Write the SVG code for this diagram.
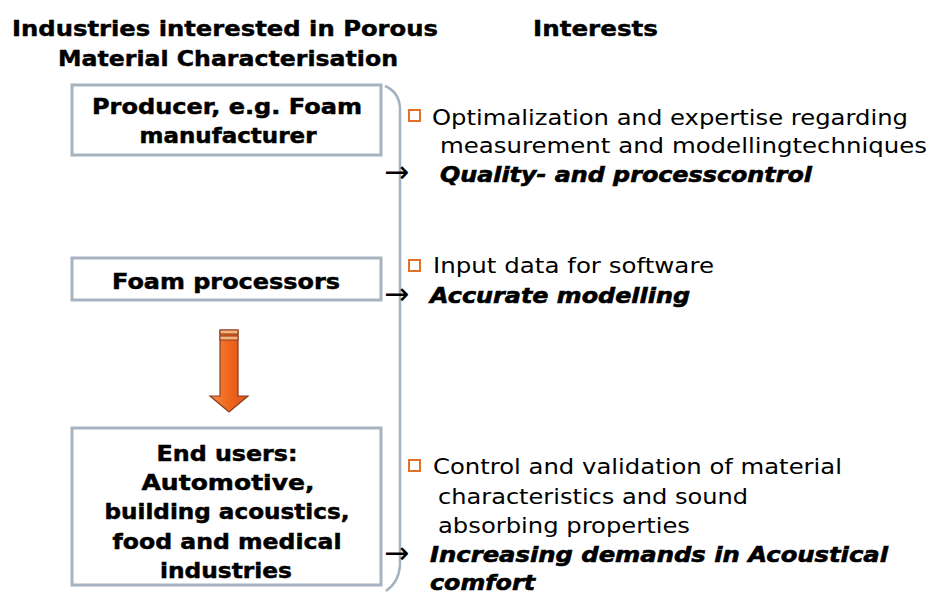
<svg xmlns="http://www.w3.org/2000/svg" width="931" height="594" viewBox="0 0 931 594">
<defs>
<style>
.hdr{font-family:"DejaVu Sans Condensed","DejaVu Sans",sans-serif;font-weight:bold;font-size:22px;fill:#000;stroke:#000;stroke-width:0.4}
.box{fill:#fff;stroke:#a7b3c0;stroke-width:3}
.bt{font-family:"DejaVu Sans",Verdana,sans-serif;font-weight:bold;font-size:22px;fill:#000;stroke:#000;stroke-width:0.5;text-anchor:middle}
.it{font-family:"DejaVu Sans",Verdana,sans-serif;font-size:21px;fill:#000}
.ar{font-family:"DejaVu Sans",sans-serif;font-size:30px;fill:#000}
.em{font-family:"DejaVu Sans",Verdana,sans-serif;font-size:21px;font-weight:bold;font-style:italic;fill:#000;stroke:#000;stroke-width:0.6}
.bul{fill:#fff;stroke:#e0702a;stroke-width:2}
.brk{fill:none;stroke:#a3b2c0;stroke-width:2.5}
</style>
<linearGradient id="ag" x1="0" y1="0" x2="1" y2="0">
<stop offset="0" stop-color="#f58a45"/>
<stop offset="0.5" stop-color="#f0661e"/>
<stop offset="1" stop-color="#d9541a"/>
</linearGradient>
</defs>
<rect width="931" height="594" fill="#fff"/>
<g id="headers">
<text class="hdr" x="12" y="36" textLength="426" lengthAdjust="spacingAndGlyphs">Industries interested in Porous</text>
<text class="hdr" x="58" y="66" textLength="340" lengthAdjust="spacingAndGlyphs">Material Characterisation</text>
<text class="hdr" x="533" y="36" textLength="125" lengthAdjust="spacingAndGlyphs">Interests</text>
</g>
<g id="producer">
<rect class="box" x="72" y="85" width="309" height="70"/>
<text class="bt" x="227" y="114" textLength="270" lengthAdjust="spacingAndGlyphs">Producer, e.g. Foam</text>
<text class="bt" x="228" y="143" textLength="177" lengthAdjust="spacingAndGlyphs">manufacturer</text>
</g>
<g id="processors">
<rect class="box" x="72" y="258" width="309" height="42"/>
<text class="bt" x="226" y="289" textLength="228" lengthAdjust="spacingAndGlyphs">Foam processors</text>
</g>
<g id="endusers">
<rect class="box" x="72" y="428" width="309" height="157"/>
<text class="bt" x="227" y="461" textLength="141" lengthAdjust="spacingAndGlyphs">End users:</text>
<text class="bt" x="228" y="490" textLength="173" lengthAdjust="spacingAndGlyphs">Automotive,</text>
<text class="bt" x="227" y="519" textLength="245" lengthAdjust="spacingAndGlyphs">building acoustics,</text>
<text class="bt" x="227" y="549" textLength="229" lengthAdjust="spacingAndGlyphs">food and medical</text>
<text class="bt" x="226" y="578" textLength="132" lengthAdjust="spacingAndGlyphs">industries</text>
</g>
<g id="connectors">
<path class="brk" d="M385,86 Q399,92 400,108 L400,565 Q399,582 386,591"/>
<g id="down-arrow">
<path d="M220,330 L238,330 L238,396 L248,396 L229,412 L210,396 L220,396 Z" fill="url(#ag)" stroke="#8a3b1c" stroke-width="1.2"/>
<rect x="220" y="330" width="18" height="4" fill="#f6b27a" stroke="#8a3b1c" stroke-width="1"/>
<rect x="220" y="336" width="18" height="4" fill="#f6b27a" stroke="#8a3b1c" stroke-width="1"/>
</g>
</g>
<g id="interests">
<rect class="bul" x="409" y="110" width="11" height="11"/>
<text class="it" x="432" y="125" textLength="476" lengthAdjust="spacingAndGlyphs">Optimalization and expertise regarding</text>
<text class="it" x="440" y="153" textLength="487" lengthAdjust="spacingAndGlyphs">measurement and modellingtechniques</text>
<text class="ar" x="384" y="182">→</text>
<text class="em" x="440" y="182" textLength="372" lengthAdjust="spacingAndGlyphs">Quality- and processcontrol</text>
<rect class="bul" x="409" y="260" width="11" height="11"/>
<text class="it" x="433" y="273" textLength="281" lengthAdjust="spacingAndGlyphs">Input data for software</text>
<text class="ar" x="384" y="304">→</text>
<text class="em" x="430" y="303" textLength="260" lengthAdjust="spacingAndGlyphs">Accurate modelling</text>
<rect class="bul" x="409" y="460" width="11" height="11"/>
<text class="it" x="433" y="474" textLength="409" lengthAdjust="spacingAndGlyphs">Control and validation of material</text>
<text class="it" x="438" y="504" textLength="310" lengthAdjust="spacingAndGlyphs">characteristics and sound</text>
<text class="it" x="438" y="533" textLength="252" lengthAdjust="spacingAndGlyphs">absorbing properties</text>
<text class="ar" x="384" y="563">→</text>
<text class="em" x="430" y="562" textLength="458" lengthAdjust="spacingAndGlyphs">Increasing demands in Acoustical</text>
<text class="em" x="430" y="590" textLength="105" lengthAdjust="spacingAndGlyphs">comfort</text>
</g>
</svg>
